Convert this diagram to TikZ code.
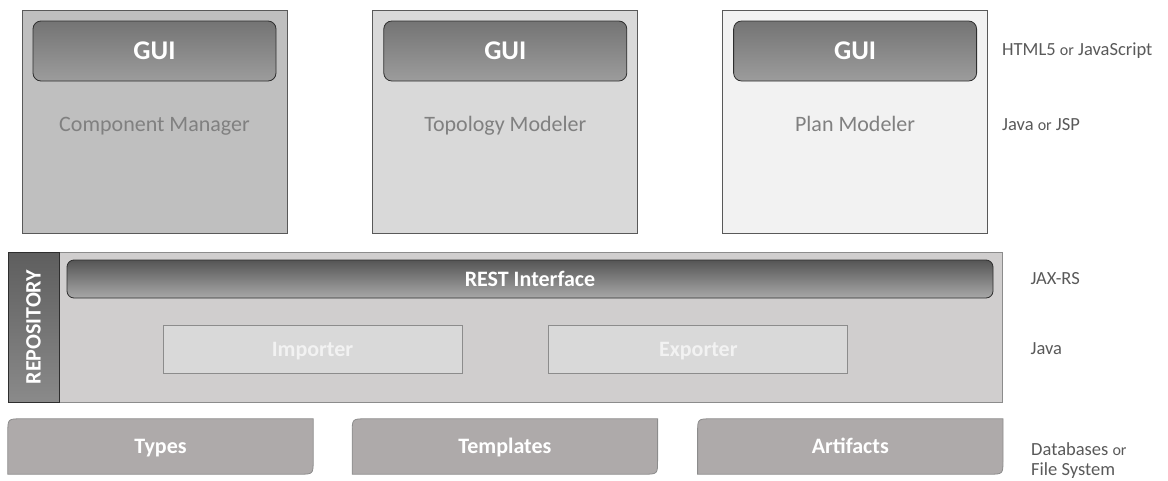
\documentclass[tikz,border=0pt]{standalone}
\usepackage{fontspec}
\setmainfont{Carlito}
\usepackage{tikz}
\usetikzlibrary{positioning,calc,backgrounds}
\definecolor{FrameGray}{HTML}{595959}
\definecolor{ToolA}{HTML}{BFBFBF}
\definecolor{ToolB}{HTML}{D9D9D9}
\definecolor{ToolC}{HTML}{F2F2F2}
\definecolor{GuiTop}{HTML}{747474}
\definecolor{GuiBottom}{HTML}{9C9C9C}
\definecolor{GuiLine}{HTML}{2E2E2E}
\definecolor{NameGray}{HTML}{808080}
\definecolor{NoteGray}{HTML}{595959}
\definecolor{RepoFill}{HTML}{D0CECE}
\definecolor{RepoLine}{HTML}{8C8C8C}
\definecolor{SideTop}{HTML}{5E5E5E}
\definecolor{SideBottom}{HTML}{8A8A8A}
\definecolor{RestTop}{HTML}{555555}
\definecolor{RestBottom}{HTML}{A8A8A8}
\definecolor{StoreFill}{HTML}{AEAAAA}
\newcommand{\smallor}{{\fontsize{16}{16}\selectfont or}}

\begin{document}
\begin{tikzpicture}[x=1pt, y=-1pt,
  tool/.style={rectangle, draw=FrameGray, line width=0.8pt, minimum width=265pt, minimum height=223pt, inner sep=0pt},
  gui/.style={rectangle, draw=GuiLine, line width=0.8pt, rounded corners=8pt, top color=GuiTop, bottom color=GuiBottom, minimum width=243pt, minimum height=60pt, inner sep=0pt, text height=17pt, text depth=0pt, text=white, font=\fontsize{27}{27}\selectfont\bfseries},
  toolname/.style={inner sep=0pt, text height=14pt, text depth=0pt, text=NameGray, font=\fontsize{22}{22}\selectfont},
  note/.style={anchor=west, inner sep=0pt, align=left, text=NoteGray, font=\fontsize{18.5}{20}\selectfont},
  repo/.style={rectangle, draw=RepoLine, line width=0.8pt, fill=RepoFill, minimum width=994pt, minimum height=150pt, inner sep=0pt},
  sidebar/.style={rectangle, draw=GuiLine, line width=0.8pt, top color=SideTop, bottom color=SideBottom, minimum width=51pt, minimum height=150pt, inner sep=0pt},
  rest/.style={rectangle, draw=GuiLine, line width=0.8pt, rounded corners=7pt, top color=RestTop, bottom color=RestBottom, minimum width=926pt, minimum height=38pt, inner sep=0pt, text height=14pt, text depth=0pt, text=white, font=\fontsize{22}{22}\selectfont\bfseries},
  part/.style={rectangle, draw=RepoLine, line width=0.8pt, fill=ToolB, minimum width=299pt, minimum height=48pt, inner sep=0pt, text height=14pt, text depth=0pt, text=ToolC, font=\fontsize{22}{22}\selectfont\bfseries},
  store/.style={rectangle, minimum width=305pt, minimum height=55pt, inner sep=0pt, text height=14pt, text depth=0pt, text=white, font=\fontsize{22}{22}\selectfont\bfseries},
  storeline/.style={draw=RepoLine, line width=0.8pt, fill=StoreFill}
]
  \useasboundingbox (0,0) rectangle (1168,480);

  % Modelers
  \node[tool, fill=ToolA] (cm) at (154.5,121.5) {};
  \node[tool, fill=ToolB, right=85pt of cm] (tm) {};
  \node[tool, fill=ToolC, right=84pt of tm] (pm) {};
  \node[gui, below=11pt of cm.north] (cmgui) {GUI};
  \node[gui, below=11pt of tm.north] (tmgui) {GUI};
  \node[gui, below=11pt of pm.north] (pmgui) {GUI};
  \node[toolname] (cmname) at ([yshift=-43pt]cmgui.south) {Component Manager};
  \node[toolname] (tmname) at ([yshift=-43pt]tmgui.south) {Topology Modeler};
  \node[toolname] (pmname) at ([yshift=-43pt]pmgui.south) {Plan Modeler};

  % Repository
  \node[repo] (repo) at (505,327) {};
  \node[sidebar, anchor=west] (side) at (repo.west) {};
  \node[rotate=90, inner sep=0pt, text=white, font=\fontsize{22}{22}\selectfont\bfseries] (sidelabel) at (side) {REPOSITORY};
  \node[rest] (rest) at (530,279) {REST Interface};
  \node[part] (imp) at (312.5,349) {Importer};
  \node[part, right=86pt of imp] (exp) {Exporter};

  % Storage
  \node[store] (types) at (160.5,446.5) {Types};
  \node[store, right=39pt of types] (templates) {Templates};
  \node[store, right=40pt of templates] (artifacts) {Artifacts};
  \begin{scope}[on background layer]
    \foreach \s in {types,templates,artifacts}
      \path[storeline] (\s.south west) -- ([yshift=-14pt]\s.north west)
        .. controls (\s.north west) .. ([xshift=14pt]\s.north west)
        -- (\s.north east) -- ([yshift=14pt]\s.south east)
        .. controls (\s.south east) .. ([xshift=-14pt]\s.south east) -- cycle;
  \end{scope}

  % Technologies
  \node[note] (html) at ([xshift=14pt]pm.east |- pmgui) {HTML5 \smallor{} JavaScript};
  \node[note] (jsp) at ([xshift=14pt]pm.east |- pmname) {Java \smallor{} JSP};
  \node[note] (jaxrs) at ([xshift=28pt]repo.east |- rest) {JAX-RS};
  \node[note] (java) at ([xshift=28pt]repo.east |- imp) {Java};
  \node[note, anchor=base west] (db) at ([xshift=28pt, yshift=-28.5pt]artifacts.east) {Databases \smallor\\File System};

\end{tikzpicture}
\end{document}
